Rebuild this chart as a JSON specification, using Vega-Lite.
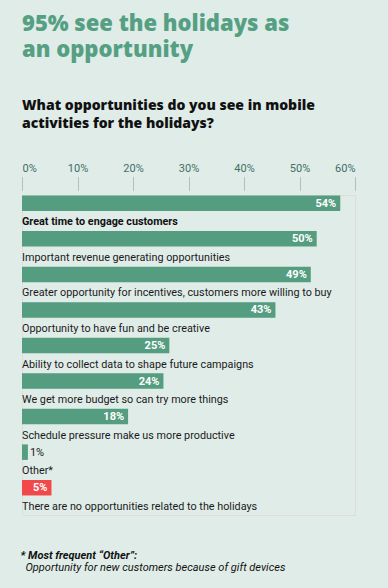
{
  "$schema": "https://vega.github.io/schema/vega-lite/v6.json",
  "autosize": {"type": "none"},
  "width": 333,
  "height": 320,
  "padding": {"left": 22, "top": 195, "right": 33, "bottom": 73},
  "background": "#e0ece8",
  "title": {
    "text": ["95% see the holidays as", "an opportunity"],
    "subtitle": ["What opportunities do you see in mobile", "activities for the holidays?"],
    "anchor": "start",
    "frame": "group",
    "font": "Open Sans",
    "fontSize": 22,
    "fontWeight": 800,
    "lineHeight": 26,
    "color": "#55a083",
    "subtitleFont": "Open Sans",
    "subtitleFontSize": 14,
    "subtitleFontWeight": 800,
    "subtitleColor": "#111111",
    "subtitleLineHeight": 18,
    "subtitlePadding": 37,
    "offset": 30
  },
  "data": {
    "values": [
      {"label": "Great time to engage customers", "pct": 0.54},
      {"label": "Important revenue generating opportunities", "pct": 0.50},
      {"label": "Greater opportunity for incentives, customers more willing to buy", "pct": 0.49},
      {"label": "Opportunity to have fun and be creative", "pct": 0.43},
      {"label": "Ability to collect data to shape future campaigns", "pct": 0.25},
      {"label": "We get more budget so can try more things", "pct": 0.24},
      {"label": "Schedule pressure make us more productive", "pct": 0.18},
      {"label": "Other*", "pct": 0.01},
      {"label": "There are no opportunities related to the holidays", "pct": 0.05}
    ]
  },
  "encoding": {
    "y": {"field": "label", "type": "nominal", "axis": null,
          "sort": ["Great time to engage customers", "Important revenue generating opportunities", "Greater opportunity for incentives, customers more willing to buy", "Opportunity to have fun and be creative", "Ability to collect data to shape future campaigns", "We get more budget so can try more things", "Schedule pressure make us more productive", "Other*", "There are no opportunities related to the holidays"],
          "scale": {"paddingInner": 0, "paddingOuter": 0}}
  },
  "layer": [
    {
      "transform": [{"filter": "datum.label !== 'Great time to engage customers'"}],
      "mark": {"type": "text", "align": "left", "baseline": "middle", "yOffset": 9.5, "font": "Roboto", "fontSize": 10.8, "color": "#1a1a1a"},
      "encoding": {
        "x": {"datum": 0, "type": "quantitative", "scale": {"domain": [0, 0.6], "nice": false},
              "axis": {"orient": "top", "values": [0, 0.1, 0.2, 0.3, 0.4, 0.5, 0.6], "format": ".0%",
                       "title": null, "domain": false, "grid": false, "offset": 5, "tickSize": 13, "tickDash": [1, 1], "tickColor": "#7a9a92",
                       "labelFont": "Roboto", "labelFontSize": 11, "labelColor": "#3f6f66", "labelPadding": 4}},
        "text": {"field": "label"}
      }
    },
    {
      "mark": {"type": "bar", "height": 15.5, "yOffset": -9.5},
      "encoding": {
        "x": {"field": "pct", "type": "quantitative", "scale": {"domain": [0, 0.565], "nice": false},
              "axis": {"orient": "bottom", "labels": false, "ticks": false, "domain": false, "grid": false,
                       "title": "* Most frequent “Other”:", "titleFont": "Roboto", "titleFontSize": 11, "titleFontStyle": "italic", "titleFontWeight": "bold",
                       "titleColor": "#111111", "titleAnchor": "start", "titleAlign": "left", "titleBaseline": "alphabetic", "titleX": -2, "titleY": 43}},
        "color": {"condition": {"test": "datum.label === 'There are no opportunities related to the holidays'", "value": "#f24849"}, "value": "#559d80"}
      }
    },
    {
      "transform": [{"filter": "datum.pct >= 0.03"}],
      "mark": {"type": "text", "align": "right", "baseline": "middle", "yOffset": -9, "dx": -4, "font": "Roboto", "fontSize": 11, "fontWeight": "bold", "color": "#ffffff"},
      "encoding": {
        "x": {"field": "pct", "type": "quantitative", "scale": {"domain": [0, 0.565], "nice": false}, "axis": null},
        "text": {"field": "pct", "type": "quantitative", "format": ".0%"}
      }
    },
    {
      "transform": [{"filter": "datum.pct < 0.03"}],
      "mark": {"type": "text", "align": "left", "baseline": "middle", "yOffset": -9, "dx": 2, "font": "Roboto", "fontSize": 11, "color": "#1a1a1a"},
      "encoding": {
        "x": {"field": "pct", "type": "quantitative", "scale": {"domain": [0, 0.565], "nice": false}, "axis": null},
        "text": {"field": "pct", "type": "quantitative", "format": ".0%"}
      }
    },
    {
      "transform": [{"filter": "datum.label === 'Great time to engage customers'"}],
      "mark": {"type": "text", "align": "left", "baseline": "middle", "yOffset": 9.5, "font": "Roboto", "fontSize": 10.8, "fontWeight": "bold", "color": "#111111"},
      "encoding": {
        "x": {"datum": 0, "type": "quantitative", "scale": {"domain": [0, 0.6], "nice": false},
              "axis": {"orient": "bottom", "labels": false, "ticks": false, "domain": false, "grid": false,
                       "title": "Opportunity for new customers because of gift devices", "titleFont": "Roboto", "titleFontSize": 11, "titleFontStyle": "italic", "titleFontWeight": "normal",
                       "titleColor": "#111111", "titleAnchor": "start", "titleAlign": "left", "titleBaseline": "alphabetic", "titleX": 3, "titleY": 55}},
        "text": {"field": "label"}
      }
    }
  ],
  "resolve": {"scale": {"x": "independent"}, "axis": {"x": "independent"}}
}
